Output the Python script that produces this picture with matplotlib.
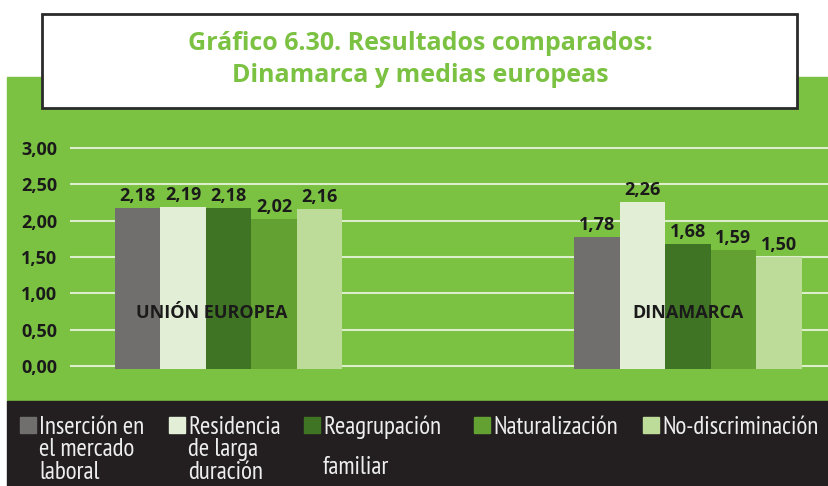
import matplotlib.pyplot as plt
import matplotlib.font_manager as fm
from matplotlib.patches import Rectangle

# datos
grupos = ['UNIÓN EUROPEA', 'DINAMARCA']
series = ['Inserción en\nel mercado\nlaboral', 'Residencia\nde larga\nduración',
          'Reagrupación\nfamiliar', 'Naturalización', 'No-discriminación']
ue = [2.18, 2.19, 2.18, 2.02, 2.16]
dk = [1.78, 2.26, 1.68, 1.59, 1.50]
yticks = [0, 0.5, 1.0, 1.5, 2.0, 2.5, 3.0]

colores = ['#706f6e', '#e2eed5', '#3f7424', '#62a132', '#bddc9a']
verde = '#7bc142'
oscuro = '#231f20'
texto = '#1a1a1a'

disponibles = {f.name for f in fm.fontManager.ttflist}
def elegir(*cands):
    return next((c for c in cands if c in disponibles), 'DejaVu Sans')

f_bold = elegir('Open Sans', 'Noto Sans')
f_narrow = elegir('PT Sans Narrow', 'Roboto Condensed', 'Fira Sans Condensed',
                  'Open Sans Condensed', 'Archivo Narrow', 'Liberation Sans Narrow')

W, H = 829, 486
fig = plt.figure(figsize=(W / 100, H / 100), dpi=100)
fig.patch.set_facecolor('white')

def px(x0, y0, x1, y1):
    # caja en pixeles (origen arriba-izquierda) -> fraccion de figura
    return (x0 / W, 1 - y1 / H), (x1 - x0) / W, (y1 - y0) / H

# fondo verde y banda oscura
xy, w, h = px(7, 77, W, 401)
fig.add_artist(Rectangle(xy, w, h, transform=fig.transFigure, color=verde, zorder=0))
xy, w, h = px(7, 401, W, H)
fig.add_artist(Rectangle(xy, w, h, transform=fig.transFigure, color=oscuro, zorder=0))

# caja del titulo
xy, w, h = px(42, 14, 797, 108)
fig.add_artist(Rectangle(xy, w, h, transform=fig.transFigure, facecolor='white',
                         edgecolor='#2a2a2a', lw=2, zorder=1))
fig.text(420 / W, 1 - 43 / H, 'Gráfico 6.30. Resultados comparados:',
         ha='center', va='center', color=verde, fontsize=18, fontweight='bold',
         family=f_bold, zorder=2)
fig.text(420 / W, 1 - 76 / H, 'Dinamarca y medias europeas',
         ha='center', va='center', color=verde, fontsize=18, fontweight='bold',
         family=f_bold, zorder=2)

# ejes
ax = fig.add_axes([70 / W, 1 - 370.4 / H, 1 - 70 / W, (370.4 - 146.5) / H])
ax.set_facecolor('none')
ancho = 0.099
base = -0.04
for i, vals in enumerate(zip(ue, dk)):
    pos = [g + (i - 2) * ancho for g in range(len(grupos))]
    ax.bar(pos, [v - base for v in vals], bottom=base, width=ancho,
           color=colores[i], zorder=3)
    for p, v in zip(pos, vals):
        ax.text(p, v + 0.165, f'{v:.2f}'.replace('.', ','), ha='center', va='center',
                fontsize=13, fontweight='bold', color=texto, family=f_bold, zorder=4)

for g, nombre in enumerate(grupos):
    ax.text(g - (0.037 if g == 0 else 0), 0.73, nombre, ha='center', va='center',
            fontsize=13, fontweight='bold', color=texto, family=f_bold, zorder=5)

ax.set_xlim(-0.345, 1.307)
ax.set_ylim(-0.06, 3.02)
ax.set_yticks(yticks)
ax.set_yticklabels([f'{t:.2f}'.replace('.', ',') for t in yticks],
                   fontsize=13, fontweight='bold', color=texto, family=f_bold)
ax.tick_params(axis='y', length=0, pad=9.4)
ax.set_xticks([])
ax.grid(axis='y', color='#dcefcc', lw=1.5, zorder=1)
for s in ax.spines.values():
    s.set_visible(False)

# leyenda
leg_x = [20, 169, 304, 474, 643]
paso = [22.5, 22.5, 40, 22.5, 22.5]
for xi, nombre, c, dy in zip(leg_x, series, colores, paso):
    xy, w, h = px(xi, 417, xi + 16, 433)
    fig.add_artist(Rectangle(xy, w, h, transform=fig.transFigure, color=c, zorder=2))
    for k, linea in enumerate(nombre.split('\n')):
        fig.text((xi + 19) / W, 1 - (433.5 + k * dy) / H, linea, ha='left',
                 va='baseline', color='#eeeeee', fontsize=18, family=f_narrow, zorder=3)

fig.savefig('out.png', dpi=100)
